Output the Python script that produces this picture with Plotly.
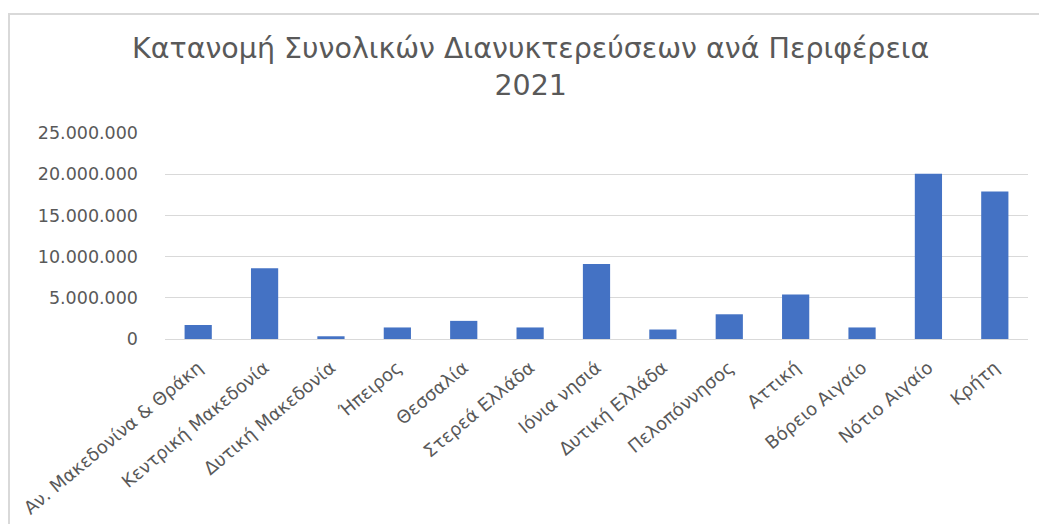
import plotly.graph_objects as go

# Regions of Greece and total overnight stays, 2021
regions = [
    "Αν. Μακεδονίνα & Θράκη",
    "Κεντρική Μακεδονία",
    "Δυτική Μακεδονία",
    "Ήπειρος",
    "Θεσσαλία",
    "Στερεά Ελλάδα",
    "Ιόνια νησιά",
    "Δυτική Ελλάδα",
    "Πελοπόννησος",
    "Αττική",
    "Βόρειο Αιγαίο",
    "Νότιο Αιγαίο",
    "Κρήτη",
]
overnight_stays = [
    1700000,
    8600000,
    330000,
    1400000,
    2200000,
    1400000,
    9100000,
    1150000,
    3000000,
    5400000,
    1400000,
    20050000,
    17900000,
]
y_ticks = [0, 5000000, 10000000, 15000000, 20000000, 25000000]
chart_title = "Κατανομή Συνολικών Διανυκτερεύσεων ανά Περιφέρεια<br>2021"

TEXT = "#595959"
GRID = "#d9d9d9"
FONT = "DejaVu Sans"

W, H = 1039, 524
ML, MR, MT, MB = 165, 11, 133, 185
plot_w = W - ML - MR
plot_h = H - MT - MB

fig = go.Figure(
    go.Bar(
        x=regions,
        y=overnight_stays,
        marker=dict(color="#4472C4", line=dict(width=0)),
    )
)


def px_to_paper_x(px):
    return (px - ML) / plot_w


def px_to_paper_y(py):
    return (H - MB - py) / plot_h


fig.update_layout(
    width=W,
    height=H,
    margin=dict(l=ML, r=MR, t=MT, b=MB, pad=0),
    paper_bgcolor="white",
    plot_bgcolor="white",
    separators=",.",
    bargap=0.59,
    showlegend=False,
    font=dict(family=FONT, color=TEXT),
    xaxis=dict(
        automargin=False,
        tickangle=-40,
        tickfont=dict(family=FONT, size=18, color=TEXT),
        showgrid=False,
        showline=True,
        linecolor=GRID,
        linewidth=1.3,
        ticks="",
        ticklabelstandoff=10,
    ),
    yaxis=dict(
        automargin=False,
        range=[0, 25000000],
        tickvals=y_ticks,
        tickformat=",d",
        tickfont=dict(family=FONT, size=17.5, color=TEXT),
        showgrid=True,
        gridcolor=GRID,
        gridwidth=1.3,
        zeroline=False,
        showline=False,
        ticks="",
        ticklabelstandoff=26,
    ),
    annotations=[
        dict(
            text=chart_title,
            xref="paper",
            yref="paper",
            x=px_to_paper_x(530),
            y=px_to_paper_y(30),
            xanchor="center",
            yanchor="top",
            showarrow=False,
            align="center",
            font=dict(family=FONT, size=28.5, color=TEXT),
        )
    ],
    shapes=[
        dict(
            type="rect",
            xref="paper",
            yref="paper",
            x0=px_to_paper_x(9),
            x1=px_to_paper_x(W + 20),
            y0=px_to_paper_y(H + 20),
            y1=px_to_paper_y(14),
            line=dict(color=GRID, width=2),
            fillcolor="rgba(0,0,0,0)",
            layer="below",
        )
    ],
)

fig.write_html("out.html")
